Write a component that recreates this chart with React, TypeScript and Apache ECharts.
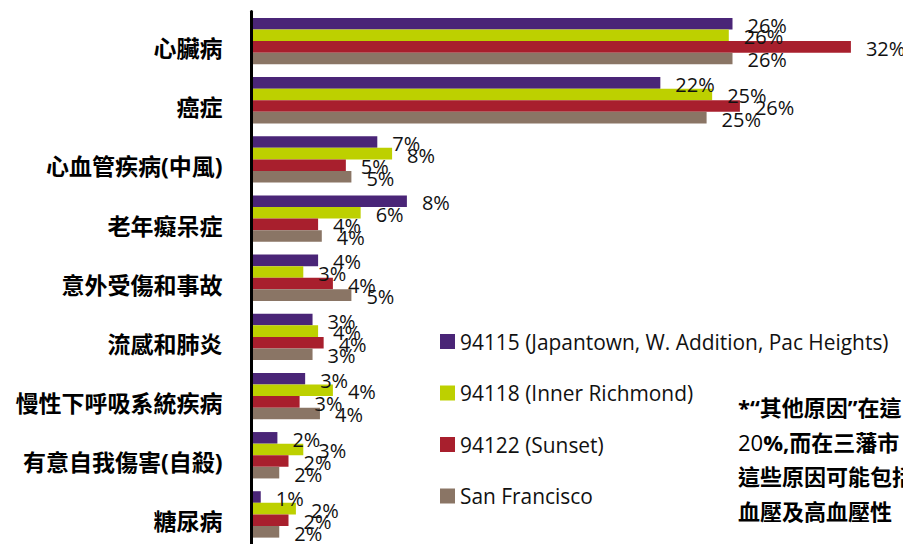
import React, { useEffect, useRef } from "react";
import * as echarts from "echarts";

const categories = [
  "心臟病",
  "癌症",
  "心血管疾病(中風)",
  "老年癡呆症",
  "意外受傷和事故",
  "流感和肺炎",
  "慢性下呼吸系統疾病",
  "有意自我傷害(自殺)",
  "糖尿病",
];

const seriesNames = [
  "94115 (Japantown, W. Addition, Pac Heights)",
  "94118 (Inner Richmond)",
  "94122 (Sunset)",
  "San Francisco",
];

// bar lengths (percent)
const v94115 = [26.0, 22.1, 6.8, 8.4, 3.6, 3.3, 2.9, 1.4, 0.5];
const v94118 = [25.8, 24.9, 7.6, 5.9, 2.8, 3.6, 4.4, 2.8, 2.4];
const v94122 = [32.4, 26.4, 5.1, 3.6, 4.4, 3.9, 2.6, 2.0, 2.0];
const vSF = [26.0, 24.6, 5.4, 3.8, 5.4, 3.3, 3.7, 1.5, 1.5];

// displayed (rounded) labels
const l94115 = [26, 22, 7, 8, 4, 3, 3, 2, 1];
const l94118 = [26, 25, 8, 6, 3, 4, 4, 3, 2];
const l94122 = [32, 26, 5, 4, 4, 4, 3, 2, 2];
const lSF = [26, 25, 5, 4, 5, 3, 4, 2, 2];

const colors = ["#4a2577", "#bdd000", "#a81f2d", "#8a7565"];

const noteLines = [
  "*“其他原因”在這",
  "20%,而在三藩市",
  "這些原因可能包括",
  "血壓及高血壓性",
];

const LATIN_CJK = "'Open Sans', 'Noto Sans CJK TC', sans-serif";

export default function App() {
  const ref = useRef<HTMLDivElement>(null);

  useEffect(() => {
    if (!ref.current) return;
    const chart = echarts.init(ref.current, undefined, { renderer: "svg" });
    const values = [v94115, v94118, v94122, vSF];
    const labels = [l94115, l94118, l94122, lSF];

    const series = values.map((vals, i) => ({
      name: seriesNames[i],
      type: "bar",
      data: vals,
      barWidth: 11.6,
      barGap: "0%",
      itemStyle: { color: colors[i] },
      label: {
        show: true,
        position: "right",
        distance: 15,
        offset: [0, 1.5],
        color: "#111",
        fontFamily: "'Open Sans', sans-serif",
        fontSize: 20,
        formatter: (p: any) => labels[i][p.dataIndex] + "%",
      },
    }));

    const noteY = [407, 442, 476, 511];
    const graphics: any[] = noteLines.map((t, i) => {
      if (i === 1) {
        return {
          type: "text",
          x: 738,
          y: noteY[i],
          style: {
            text: "{r|20}{b|%,而在三藩市}",
            verticalAlign: "middle",
            rich: {
              r: { fontFamily: LATIN_CJK, fontSize: 22, fontWeight: "normal", fill: "#000" },
              b: { fontFamily: LATIN_CJK, fontSize: 22, fontWeight: "bold", fill: "#000" },
            },
          },
        };
      }
      return {
        type: "text",
        x: 738,
        y: noteY[i],
        style: {
          text: t,
          fontFamily: LATIN_CJK,
          fontSize: 22,
          fontWeight: "bold",
          fill: "#000",
          verticalAlign: "middle",
        },
      };
    });

    chart.setOption({
      animation: false,
      color: colors,
      grid: { left: 251.5, top: 11.5, width: 647.5, height: 540, containLabel: false },
      xAxis: {
        type: "value",
        min: 0,
        max: 35,
        show: false,
      },
      yAxis: {
        type: "category",
        data: categories,
        inverse: true,
        z: 5,
        axisLine: { show: true, lineStyle: { color: "#000", width: 3 } },
        axisTick: { show: false },
        splitLine: { show: false },
        axisLabel: {
          margin: 29,
          verticalAlign: "top",
          lineHeight: 14,
          color: "#000",
          fontFamily: LATIN_CJK,
          fontWeight: "bold",
          fontSize: 23,
        },
      },
      legend: {
        orient: "vertical",
        left: 440,
        top: 331,
        padding: 0,
        icon: "rect",
        itemWidth: 15,
        itemHeight: 15,
        itemGap: 30.5,
        selectedMode: false,
        textStyle: {
          fontFamily: "'Open Sans', sans-serif",
          fontSize: 20.9,
          lineHeight: 20,
          color: "#111",
        },
        data: seriesNames,
      },
      graphic: graphics,
      series,
    });

    return () => chart.dispose();
  }, []);

  return (
    <div
      ref={ref}
      style={{ position: "absolute", left: 0, top: 0, width: 903, height: 544, background: "#fff" }}
    />
  );
}
